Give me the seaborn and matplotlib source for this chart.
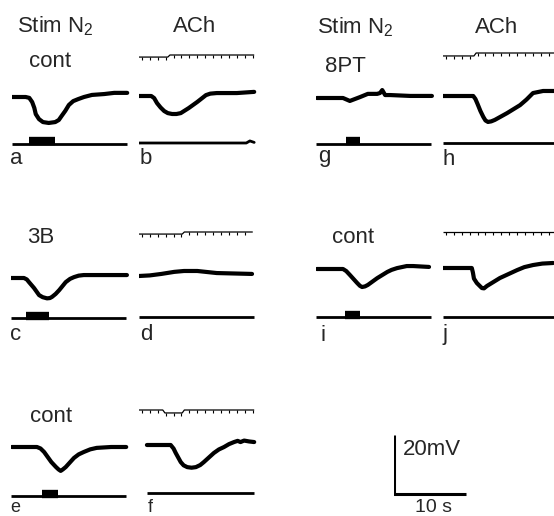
import matplotlib
matplotlib.use("Agg")
import numpy as np
import matplotlib.pyplot as plt
import seaborn as sns

# ---------------- data: time (s) and membrane potential (mV, relative to rest) ----------------
# Responses to nerve stimulation (Stim N2) and to ACh
A_T  = [0, 1.9, 2.4, 2.8, 3.1, 3.3, 3.75, 4.3, 5.1, 6.0, 6.5, 6.9, 7.4, 7.9, 8.5, 9.2, 10.0, 11.1, 12.8, 14.2, 16.0]
A_MV = [0, 0, -0.3, -1.7, -3.7, -5.8, -7.5, -8.5, -8.8, -8.5, -7.8, -6.4, -4.7, -2.7, -1.4, -0.7, 0, 0.7, 1.0, 1.4, 1.4]
B_T  = [0, 1.7, 2.1, 2.5, 3.0, 3.5, 4.0, 4.6, 5.2, 5.8, 6.9, 8.1, 9.3, 9.9, 10.8, 13.6, 16.0]
B_MV = [0, 0, -0.7, -2.4, -3.9, -5.1, -5.8, -6.1, -6.1, -5.8, -4.1, -2.0, 0.3, 0.8, 1.0, 1.0, 1.4]
C_T  = [0, 1.8, 2.2, 2.5, 3.2, 3.9, 4.4, 5.0, 5.4, 5.7, 6.2, 6.7, 7.6, 8.2, 8.75, 9.4, 10.1, 12.9, 16.1]
C_MV = [0, 0, -0.5, -1.4, -3.4, -5.8, -6.5, -6.9, -6.8, -6.4, -5.4, -4.1, -1.4, -0.3, 0.3, 0.8, 1.0, 1.0, 1.0]
D_T  = [0, 1.5, 3.1, 4.9, 6.25, 8.1, 10.8, 15.7]
D_MV = [0, 0.2, 0.7, 1.4, 1.7, 1.7, 1.0, 0.7]
E_T  = [0.1, 3.6, 4.1, 4.6, 5.6, 6.25, 6.6, 6.9, 7.2, 7.6, 8.75, 9.4, 10.1, 11.0, 11.9, 13.9, 16.0]
E_MV = [0, 0, -0.5, -1.7, -5.1, -6.8, -7.6, -8.1, -7.6, -6.8, -3.7, -2.5, -1.7, -0.8, -0.3, 0, 0]
F_T  = [1.1, 4.4, 4.8, 5.1, 5.8, 6.2, 6.7, 7.3, 7.9, 8.5, 9.0, 10.4, 11.1, 11.8, 12.5, 13.2, 13.7, 14.1, 14.6, 15.3, 16.0]
F_MV = [0, 0, -1.2, -2.7, -5.8, -6.9, -7.5, -7.7, -7.5, -6.8, -5.8, -2.7, -1.5, -0.7, 0.3, 1.0, 1.4, 1.0, 1.5, 1.2, 1.0]
G_T  = [0.1, 3.75, 4.7, 6.1, 7.2, 8.5, 8.9, 9.2, 9.6, 10.3, 13.1, 16.1]
G_MV = [0, 0, -1.0, 0.3, 1.4, 1.4, 1.7, 2.7, 1.0, 1.0, 0.7, 0.7]
H_T  = [0, 4.2, 4.5, 4.8, 5.2, 5.6, 5.9, 6.25, 6.7, 7.2, 8.9, 10.7, 11.6, 12.5, 13.9, 15.7]
H_MV = [0, 0, -1.0, -2.7, -5.1, -7.1, -8.3, -8.8, -8.6, -8.1, -5.8, -3.1, -1.2, 1.0, 1.7, 1.7]
I_T  = [0.1, 3.75, 4.2, 4.7, 5.7, 6.1, 6.4, 6.8, 7.2, 8.5, 9.9, 10.5, 11.25, 12.6, 13.5, 15.7]
I_MV = [0, 0, -0.7, -2.0, -4.7, -5.7, -6.1, -5.9, -5.4, -3.1, -1.0, -0.3, 0.3, 1.0, 1.0, 0.7]
J_T  = [0, 4.0, 4.15, 4.3, 4.7, 5.4, 5.7, 6.1, 7.9, 10.3, 11.3, 12.5, 13.8, 15.3]
J_MV = [0, 0, -1.5, -3.6, -5.1, -6.8, -6.9, -6.1, -3.4, -0.7, 0.3, 1.0, 1.5, 1.7]

# stimulation periods (s) shown as blocks on the stimulus marker
STIM_A = [2.4, 6.0]
STIM_C = [2.1, 5.3]
STIM_E = [4.3, 6.5]
STIM_G = [4.2, 6.1]
STIM_I = [4.0, 6.1]

# ACh application marker traces (time s, deflection)
TIMER_B_T = [0, 4.0, 4.3, 16.0]
TIMER_B_V = [-0.7, -0.7, 0, 0]
TIMER_D_T = [0, 6.0, 6.3, 15.8]
TIMER_D_V = [-0.7, -0.7, 0, 0]
TIMER_F_T = [0, 3.3, 3.6, 6.0, 6.3, 16.0]
TIMER_F_V = [0, 0, -1.0, -1.0, 0, 0]
TIMER_H_T = [0, 4.3, 4.6, 16.0]
TIMER_H_V = [-1.0, -1.0, 0, 0]
TIMER_J_T = [0, 16.0]
TIMER_J_V = [0, 0]
TIMER_PERIOD_S = 1.1

# flat reference line under ACh traces
BOTTOM_B_T = [0, 14.9, 15.4, 16.0]
BOTTOM_B_V = [0, 0, 0.7, 0.2]

SCALE_S = 10
SCALE_MV = 20

# ---------------- layout (pixels) ----------------
W, H = 554, 516
PX_PER_S = 7.2
PX_PER_MV = 2.95
ABOVE, BELOW = 70, 60
AX_W = 122

sns.set_style("white")
plt.rcParams["font.family"] = ["Liberation Sans", "DejaVu Sans"]
plt.rcParams["mathtext.fontset"] = "custom"
plt.rcParams["mathtext.rm"] = "Liberation Sans"
plt.rcParams["mathtext.default"] = "regular"

fig = plt.figure(figsize=(W / 100, H / 100), dpi=100)
fig.patch.set_facecolor("white")


def make_ax(x_px, base_px):
    ax = fig.add_axes([x_px / W, 1 - (base_px + BELOW) / H, AX_W / W, (ABOVE + BELOW) / H])
    ax.set_xlim(0, AX_W / PX_PER_S)
    ax.set_ylim(-BELOW / PX_PER_MV, ABOVE / PX_PER_MV)
    ax.axis("off")
    ax.patch.set_alpha(0)
    return ax


def off(base_px, y_px):
    return (base_px - y_px) / PX_PER_MV


def line(ax, t, v, lw, cap="round"):
    sns.lineplot(x=list(t), y=list(v), ax=ax, color="black", lw=lw, estimator=None,
                 sort=False, legend=False, solid_capstyle=cap, solid_joinstyle="round")


MAIN_LW = 3.0
MARK_LW = 2.0

stim_panels = [
    # key, x0, base, stim line y, block y, trace, stim window
    ("a", 12, 97, 144, 141, A_T, A_MV, STIM_A),
    ("c", 11, 278, 318, 316, C_T, C_MV, STIM_C),
    ("e", 11, 447, 496, 494, E_T, E_MV, STIM_E),
    ("g", 316, 98, 144, 141, G_T, G_MV, STIM_G),
    ("i", 316, 269, 317, 315, I_T, I_MV, STIM_I),
]
for key, x0, base, ys, yb, t, v, win in stim_panels:
    ax = make_ax(x0, base)
    line(ax, t, v, MAIN_LW)
    s = off(base, ys)
    line(ax, [0, 16.0], [s, s], MARK_LW, cap="butt")
    b = off(base, yb)
    line(ax, win, [b, b], 6.0, cap="butt")

ach_panels = [
    # key, x0, base, bottom line y, timer y, trace, timer
    ("b", 139, 96, 143, 55, B_T, B_MV, TIMER_B_T, TIMER_B_V),
    ("d", 139, 276, 317, 232, D_T, D_MV, TIMER_D_T, TIMER_D_V),
    ("f", 139, 445, 493, 410, F_T, F_MV, TIMER_F_T, TIMER_F_V),
    ("h", 443, 96, 143, 53, H_T, H_MV, TIMER_H_T, TIMER_H_V),
    ("j", 443, 268, 317, 232, J_T, J_MV, TIMER_J_T, TIMER_J_V),
]
for key, x0, base, yl, yt, t, v, tt, tv in ach_panels:
    ax = make_ax(x0, base)
    line(ax, t, v, MAIN_LW)
    s = off(base, yl)
    if key == "b":
        line(ax, BOTTOM_B_T, [s + d for d in BOTTOM_B_V], MARK_LW)
    else:
        line(ax, [F_T[0] if key == "f" else 0, 16.0], [s, s], MARK_LW, cap="butt")
    tm = off(base, yt)
    line(ax, tt, [tm + d for d in tv], 0.9, cap="butt")
    ticks = np.arange(0.4, tt[-1], TIMER_PERIOD_S)
    tick_y = np.interp(ticks, tt, tv) + tm
    sns.scatterplot(x=ticks, y=tick_y, ax=ax, marker=3, s=6, color="black",
                    linewidth=0.8, legend=False)

# scale bar
sax = make_ax(394, 494)
line(sax, [0, 0, SCALE_S], [SCALE_MV, 0, 0], 2.2, cap="butt")

# ---------------- text ----------------
FS = 16


def txt(x, y, s, **kw):
    fig.text(x / W, 1 - y / H, s, fontsize=kw.pop("fs", FS), va="baseline", ha="left", **kw)


txt(17, 32, "Stim N$_2$")
txt(173, 32, "ACh")
txt(317, 33, "Stim N$_2$")
txt(475, 33, "ACh")
txt(29, 67, "cont")
txt(325, 72, "8PT")
txt(27, 243, "3B")
txt(332, 243, "cont")
txt(30, 422, "cont")
txt(403, 455, "20mV")
txt(415, 512, "10 s", fs=14)

for lab, x, y in [("a", 10, 164), ("b", 140, 164), ("g", 318, 162), ("h", 443, 165),
                  ("c", 10, 340), ("d", 140, 340), ("i", 320, 341), ("j", 443, 340)]:
    txt(x, y, lab)
txt(10, 512, "e", fs=13)
txt(148, 512, "f", fs=13)

fig.savefig("out.png", dpi=100, facecolor="white")
